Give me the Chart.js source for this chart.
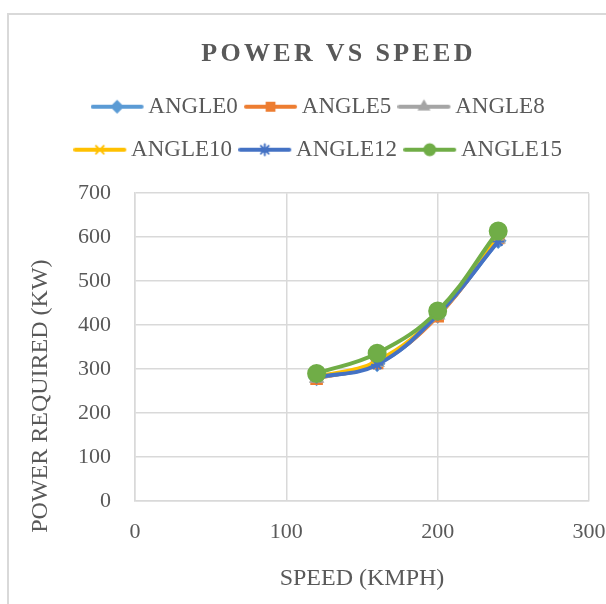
<!DOCTYPE html>
<html>
<head>
<meta charset="utf-8">
<script src="https://cdn.jsdelivr.net/npm/chart.js@4/dist/chart.umd.min.js"></script>
<style>
  html, body { margin: 0; padding: 0; background: #fff; overflow: hidden; }
  #frame { position: absolute; left: 7px; top: 13px; width: 700px; height: 700px;
           border: 2px solid #d9d9d9; box-sizing: border-box; }
  #wrap { position: absolute; left: 0; top: 0; width: 632px; height: 604px; }
</style>
</head>
<body>
<div id="frame"></div>
<div id="wrap"><canvas id="power-chart" width="632" height="604"></canvas></div>
<script>
// Speeds on the x axis (km/h)
var speeds = [120, 160, 200, 240];

// Power required (kW) for each blade angle
var angle0 = [280, 312, 422, 592];
var angle5 = [278, 314, 420, 598];
var angle8 = [279, 315, 423, 596];
var angle10 = [282, 318, 425, 600];
var angle12 = [281, 310, 424, 590];
var angle15 = [290, 336, 432, 614];

var seriesNames = ['ANGLE0', 'ANGLE5', 'ANGLE8', 'ANGLE10', 'ANGLE12', 'ANGLE15'];
var seriesValues = [angle0, angle5, angle8, angle10, angle12, angle15];
var seriesColors = ['#5B9BD5', '#ED7D31', '#A5A5A5', '#FFC000', '#4472C4', '#70AD47'];
var markerStyles = ['rectRot', 'rect', 'triangle', 'crossRot', 'star', 'circle'];
var markerSizes = [7, 7.5, 7, 6, 6, 8.5];

var xTicks = [0, 100, 200, 300];
var yTicks = [0, 100, 200, 300, 400, 500, 600, 700];

var textColor = '#595959';
var gridColor = '#d9d9d9';
var serif = "'Liberation Serif', 'Times New Roman', serif";

// legend symbol: line + marker, drawn a bit to the left of the legend box
function makeLegendIcon(color, style, radius) {
    var c = document.createElement('canvas');
    c.width = 60;
    c.height = 18;
    var g = c.getContext('2d');
    g.strokeStyle = color;
    g.fillStyle = color;
    g.lineWidth = 4;
    g.lineCap = 'round';
    g.beginPath();
    g.moveTo(2, 9);
    g.lineTo(51, 9);
    g.stroke();
    g.lineWidth = 2;
    Chart.helpers.drawPoint(g, { pointStyle: style, radius: radius, borderWidth: 2, rotation: 0 }, 26.5, 9);
    return c;
}

var datasets = seriesNames.map(function(name, i) {
    return {
        label: name,
        data: speeds.map(function(s, j) { return { x: s, y: seriesValues[i][j] }; }),
        borderColor: seriesColors[i],
        backgroundColor: seriesColors[i],
        borderWidth: 4,
        pointStyle: markerStyles[i],
        pointRadius: markerSizes[i],
        pointBorderWidth: 2,
        pointBorderColor: seriesColors[i],
        pointBackgroundColor: seriesColors[i],
        tension: 0.4,
        order: seriesNames.length - i // last series drawn on top, like Excel
    };
});

// wrap a box's draw so it is painted shifted (and optionally letter-spaced)
function shiftDraw(chart, box, dx, dy, spacing) {
    var orig = box.draw.bind(box);
    box.draw = function(area) {
        var c = chart.ctx;
        c.save();
        if (spacing) c.letterSpacing = spacing;
        c.translate(dx, dy);
        orig(area);
        c.restore();
    };
    box._patched = true;
}

// Excel-like tweaks: letter-spaced title, legend and y title placement
var layoutTweaks = {
    id: 'layoutTweaks',
    beforeLayout: function(chart) {
        var lg = chart.legend;
        if (lg && !lg._fitPatched) {
            var origFit = lg.fit.bind(lg);
            lg.fit = function() {
                origFit();
                this.height += 22;
            };
            lg._fitPatched = true;
        }
    },
    beforeDraw: function(chart) {
        if (chart.titleBlock && !chart.titleBlock._patched) shiftDraw(chart, chart.titleBlock, 33, 0, '3.3px');
        if (chart.legend && !chart.legend._patched) shiftDraw(chart, chart.legend, 19, 0);
        var ys = chart.scales.y;
        if (ys && !ys._patched) {
            var origYTitle = ys.drawTitle.bind(ys);
            ys.drawTitle = function() {
                var c = chart.ctx;
                c.save();
                c.translate(0, 49);
                origYTitle();
                c.restore();
            };
            ys._patched = true;
        }
    }
};

var ctx = document.getElementById('power-chart').getContext('2d');

var powerChart = new Chart(ctx, {
    type: 'line',
    data: { datasets: datasets },
    plugins: [layoutTweaks],
    options: {
        responsive: false,
        animation: false,
        layout: { padding: { left: 22, right: 43, top: 20, bottom: 0 } },
        plugins: {
            title: {
                display: true,
                text: 'POWER VS SPEED',
                color: textColor,
                font: { family: serif, size: 26, weight: 'bold' },
                padding: { top: 19, bottom: 5 }
            },
            legend: {
                position: 'top',
                labels: {
                    usePointStyle: true,
                    pointStyleWidth: 32.5,
                    boxHeight: 23,
                    padding: 20,
                    color: textColor,
                    font: { family: serif, size: 23 },
                    generateLabels: function(chart) {
                        return chart.data.datasets.map(function(ds, i) {
                            return {
                                text: ds.label,
                                datasetIndex: i,
                                pointStyle: makeLegendIcon(seriesColors[i], markerStyles[i], 5.5),
                                fillStyle: seriesColors[i],
                                strokeStyle: seriesColors[i],
                                lineWidth: 0,
                                fontColor: textColor,
                                hidden: false
                            };
                        });
                    }
                }
            },
            tooltip: { enabled: false }
        },
        scales: {
            x: {
                type: 'linear',
                min: 0,
                max: 300,
                afterBuildTicks: function(axis) {
                    axis.ticks = xTicks.map(function(v) { return { value: v }; });
                },
                afterFit: function(axis) { axis.height = 103; },
                grid: { color: gridColor, lineWidth: 1.5, drawTicks: false },
                border: { color: gridColor, width: 1.5 },
                ticks: { color: textColor, font: { family: serif, size: 22 }, padding: 18, maxRotation: 0 },
                title: {
                    display: true,
                    text: 'SPEED (KMPH)',
                    color: textColor,
                    font: { family: serif, size: 24 },
                    padding: { top: 18, bottom: 11 }
                }
            },
            y: {
                min: 0,
                max: 700,
                afterBuildTicks: function(axis) {
                    axis.ticks = yTicks.map(function(v) { return { value: v }; });
                },
                afterFit: function(axis) { axis.width = 113; },
                grid: { color: gridColor, lineWidth: 1.5, drawTicks: false },
                border: { color: gridColor, width: 1.5 },
                ticks: { color: textColor, font: { family: serif, size: 22 }, padding: 24 },
                title: {
                    display: true,
                    text: 'POWER REQUIRED (KW)',
                    color: textColor,
                    font: { family: serif, size: 24 },
                    padding: { top: 4, bottom: 23 }
                }
            }
        }
    }
});
</script>
</body>
</html>
